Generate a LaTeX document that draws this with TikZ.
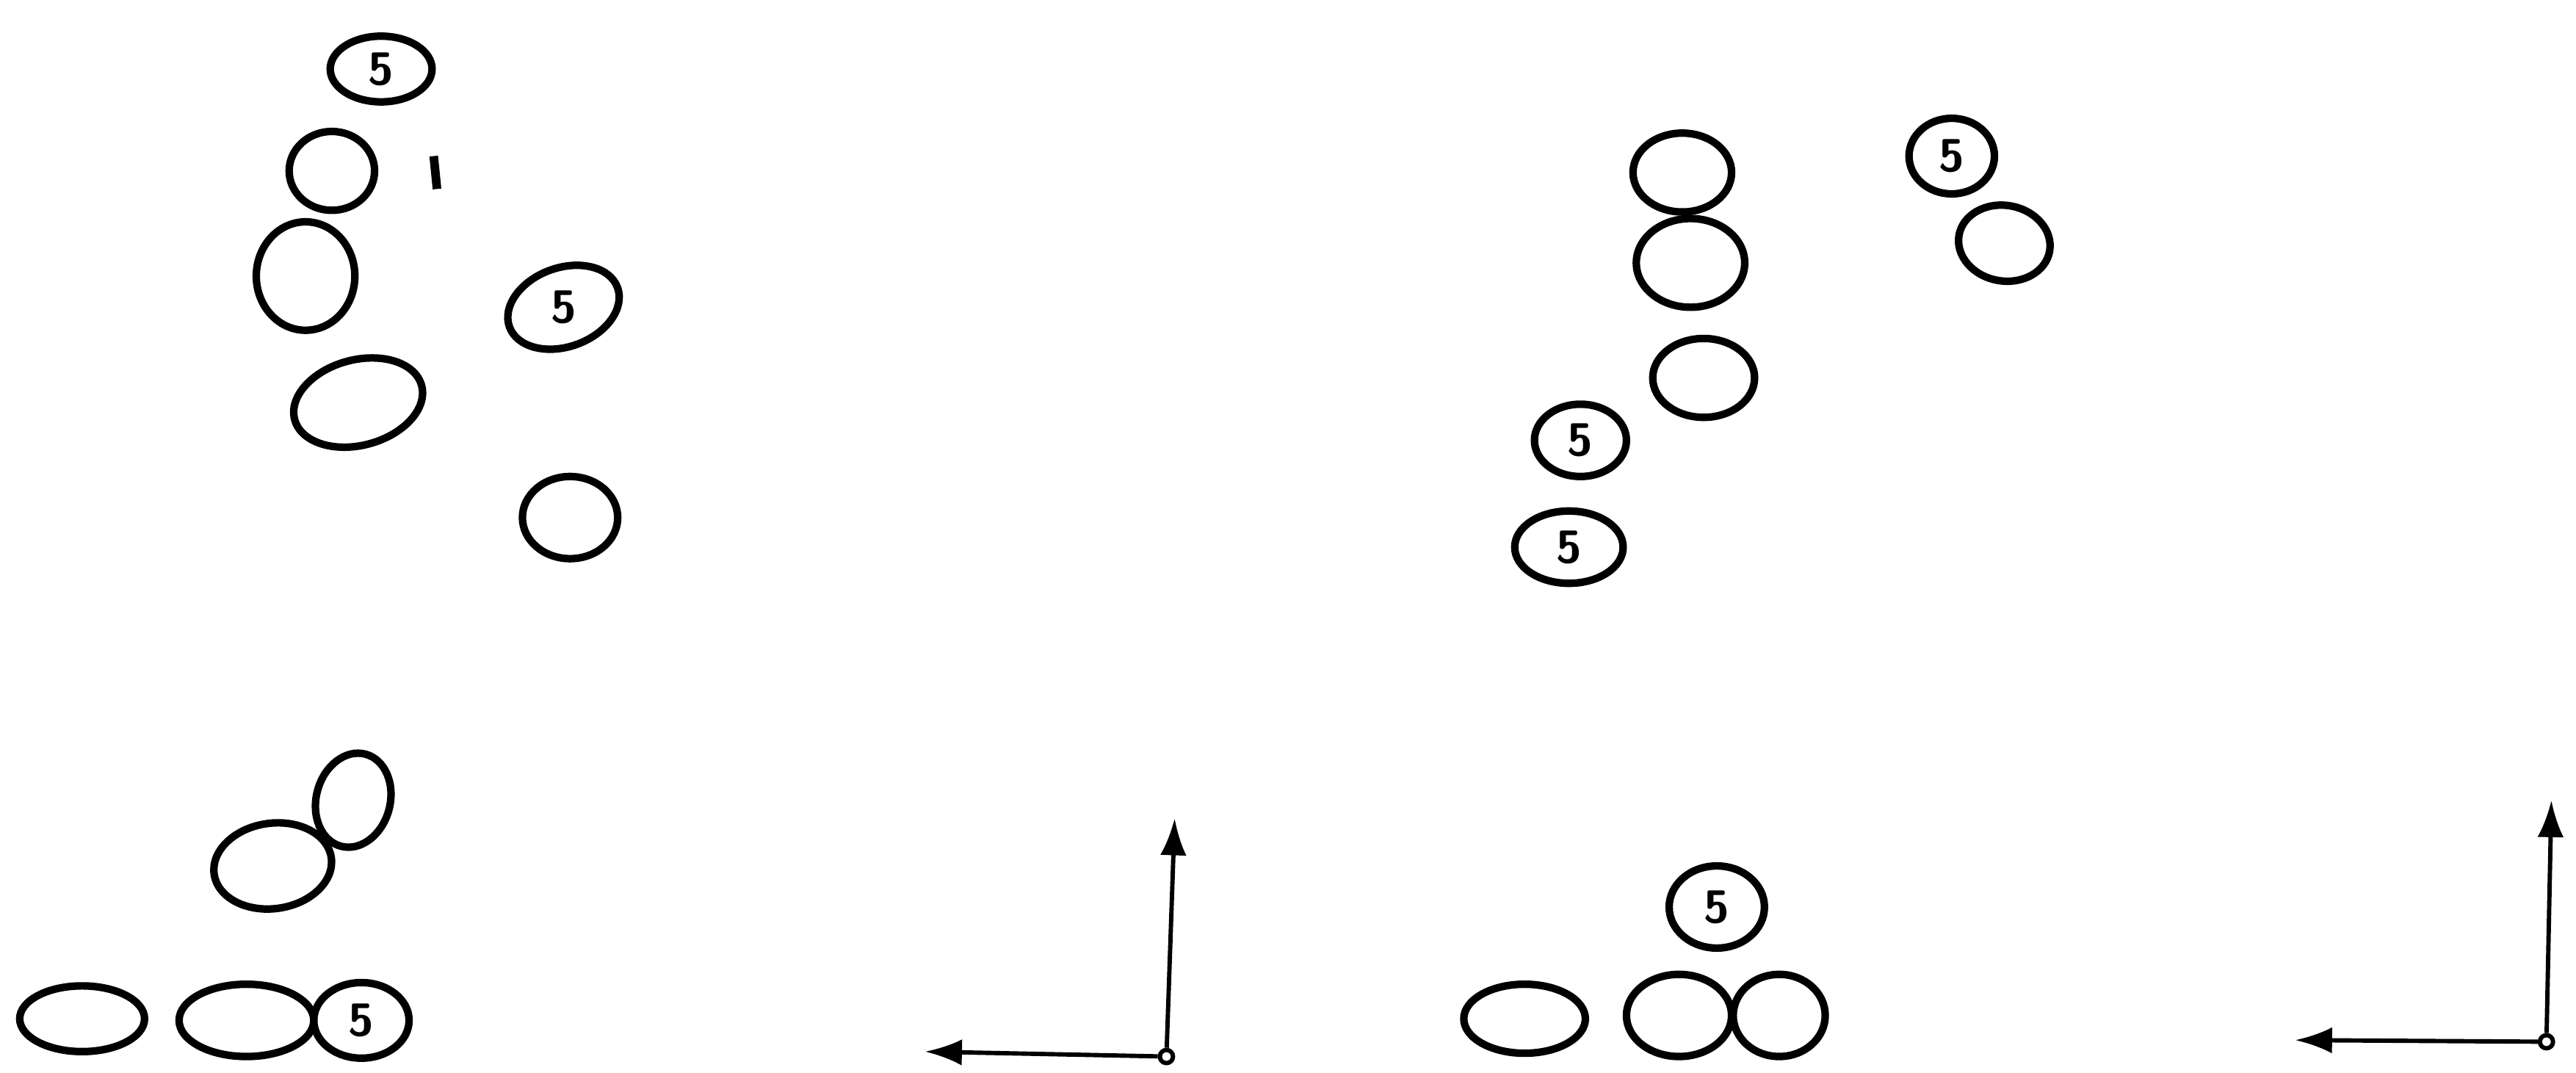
\documentclass[tikz,border=0pt]{standalone}
\usepackage{tikz}
\usetikzlibrary{shapes.geometric,arrows.meta}
\tikzset{
  blob/.style   = {draw, ellipse, line width=2.6pt, inner sep=0pt},
  five/.style   = {blob, font=\sffamily\bfseries\fontsize{16}{16}\selectfont},
  axis/.style   = {line width=1.5pt, -{Latex[length=4.5mm,width=3.2mm]}},
  origin/.style = {draw, circle, line width=1.5pt, minimum size=1.6mm, inner sep=0pt}
}

\begin{document}
\begin{tikzpicture}[x=0.2mm, y=-0.2mm]
    \useasboundingbox (0,0) rectangle (1568,653);

    % top left group
    \node [five, minimum width=12.4mm, minimum height=8mm] (tlfivea) at (232,42) {5};
    \node [blob, minimum width=10.4mm, minimum height=9.6mm] (tlringa) at (202,104) {};
    \draw [line width=3pt] (264,95) -- (266,115);
    \node [blob, minimum width=12mm, minimum height=13.2mm] (tlringb) at (186,168) {};
    \node [five, minimum width=14mm, minimum height=9.6mm, rotate=20] (tlfiveb) at (343,187) {\rotatebox{-20}{5}};
    \node [blob, minimum width=16mm, minimum height=10.4mm, rotate=15] (tlbig) at (218,245) {};
    \node [blob, minimum width=11.6mm, minimum height=10mm] (tlringc) at (347,315) {};

    % top right group
    \node [blob, minimum width=12mm, minimum height=9.6mm] (trringa) at (1024,105) {};
    \node [blob, minimum width=13.2mm, minimum height=10.8mm] (trringb) at (1029,160) {};
    \node [blob, minimum width=12.4mm, minimum height=9.6mm] (trringc) at (1037,230) {};
    \node [five, minimum width=11.2mm, minimum height=8.8mm] (trfivea) at (962,268) {5};
    \node [five, minimum width=13.2mm, minimum height=8.8mm] (trfiveb) at (955,333) {5};
    \node [five, minimum width=10.4mm, minimum height=9.2mm] (trfivec) at (1188,95) {5};
    \node [blob, minimum width=11.2mm, minimum height=9.2mm, rotate=-10] (trringd) at (1220,148) {};

    % bottom left group
    \node [blob, minimum width=11.6mm, minimum height=9mm, rotate=75] (blegga) at (215,487) {};
    \node [blob, minimum width=14.4mm, minimum height=10.4mm, rotate=8] (bleggb) at (166,527) {};
    \node [blob, minimum width=15.2mm, minimum height=8mm] (blrowa) at (50,620) {};
    \node [blob, minimum width=16.4mm, minimum height=8.8mm] (blrowb) at (150,621) {};
    \node [five, minimum width=11.6mm, minimum height=9.2mm] (blfive) at (220,621) {5};

    % bottom right group
    \node [five, minimum width=11.6mm, minimum height=10mm] (brfive) at (1045,552) {5};
    \node [blob, minimum width=14.8mm, minimum height=8.4mm] (brrowa) at (928,620) {};
    \node [blob, minimum width=12.8mm, minimum height=10mm] (brrowb) at (1022,618) {};
    \node [blob, minimum width=11.2mm, minimum height=10mm] (brrowc) at (1083,618) {};

    % axes
    \node [origin] (oleft) at (710,643) {};
    \coordinate (upleft) at (715,498);
    \coordinate (sideleft) at (563,640);
    \draw [axis] (oleft) -- (upleft);
    \draw [axis] (oleft) -- (sideleft);

    \node [origin] (oright) at (1550,634) {};
    \coordinate (upright) at (1553,487);
    \coordinate (sideright) at (1397,633);
    \draw [axis] (oright) -- (upright);
    \draw [axis] (oright) -- (sideright);
\end{tikzpicture}
\end{document}
